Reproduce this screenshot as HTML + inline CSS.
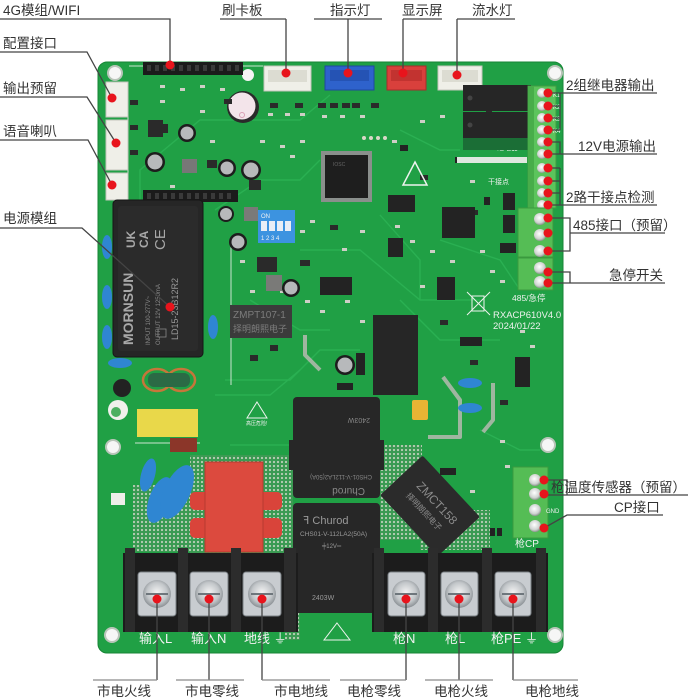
<!DOCTYPE html>
<html><head><meta charset="utf-8">
<style>
html,body{margin:0;padding:0;background:#fff;}
svg{display:block;}
text{font-family:"Liberation Sans","Noto Sans CJK SC",sans-serif;}
.lbl{font-size:13.5px;fill:#333;}
.wt{fill:#f2f2f2;}
.ln{stroke:#444;stroke-width:1.3;fill:none;}
.lg{stroke:#8a8a8a;stroke-width:1.3;fill:none;}
.dot{fill:#e8141c;}
.blk{fill:#232323;}
.smd{fill:#2a2a2a;}
</style></head><body>
<svg width="698" height="700" viewBox="0 0 698 700" xmlns="http://www.w3.org/2000/svg">
<defs>
<pattern id="dots" width="4" height="4" patternUnits="userSpaceOnUse"><rect width="4" height="4" fill="#3a9a52"/><circle cx="2" cy="2" r="1.1" fill="#bccfb8"/></pattern>
<radialGradient id="screw" cx="50%" cy="45%" r="60%"><stop offset="0" stop-color="#f4f4f4"/><stop offset="0.6" stop-color="#c2c6c9"/><stop offset="1" stop-color="#7a8085"/></radialGradient>
<radialGradient id="scr2" cx="45%" cy="40%" r="60%"><stop offset="0" stop-color="#ffffff"/><stop offset="0.7" stop-color="#cfd3d0"/><stop offset="1" stop-color="#8d948f"/></radialGradient>
</defs>
<rect width="698" height="700" fill="#fff"/>

<!-- BOARD -->
<rect x="98" y="62" width="465" height="591" rx="9" fill="#20a045" stroke="#178536" stroke-width="1"/>
<g stroke="#2db456" stroke-width="1.4" fill="none" opacity="0.8">
<polyline points="140,230 140,170 200,120 300,120 330,95"/>
<polyline points="215,210 260,180 300,180 320,160"/>
<polyline points="300,250 360,250 420,300 480,300"/>
<polyline points="380,215 420,260 420,300"/>
<polyline points="225,380 290,380 320,350 360,350"/>
<polyline points="230,445 290,445 320,420"/>
<polyline points="400,300 440,340 500,340"/>
<polyline points="490,130 490,95"/>
<polyline points="440,240 500,260 520,290"/>
<polyline points="215,395 270,395 300,370"/>
<polyline points="250,300 300,330 330,330"/>
<polyline points="400,130 440,150 460,150"/>
<polyline points="290,440 320,470"/>
<polyline points="480,430 520,450 540,450"/>
</g>
<g stroke="#e8efe6" stroke-width="1" fill="none" opacity="0.85">
<polyline points="129,66 263,66"/>
<line x1="231" y1="243" x2="231" y2="385"/>
<line x1="128" y1="108" x2="128" y2="230"/>
<polyline points="135,443 200,443"/>
</g>

<g fill="#f6f6f6" stroke="#b9c5b9" stroke-width="2">
<circle cx="115" cy="73" r="7"/><circle cx="555" cy="73" r="7"/>
<circle cx="113" cy="447" r="7"/><circle cx="548" cy="445" r="7"/>
<circle cx="112" cy="635" r="7"/><circle cx="555" cy="635" r="7"/>
</g>
<circle cx="248" cy="75" r="6" fill="#f4f4f4"/>

<rect x="133" y="485" width="70" height="67" fill="url(#dots)"/>
<rect x="190" y="455" width="103" height="98" fill="url(#dots)"/>
<rect x="380" y="445" width="42" height="95" fill="url(#dots)"/>
<rect x="420" y="510" width="70" height="40" fill="url(#dots)"/>
<rect x="285" y="600" width="15" height="40" fill="url(#dots)"/>

<g stroke="#9fb6a0" stroke-width="4" fill="none" stroke-linejoin="round">
<polyline points="443,377 460,400 460,437 428,437"/>
<polyline points="493,383 493,420 483,432"/>
<polyline points="400,340 400,378"/>
<polyline points="305,335 305,355 320,370"/>
</g>

<rect x="143" y="62" width="100" height="13" fill="#1b1b1b"/>
<g fill="#3a3a3a">
<rect x="147" y="65" width="4" height="6"/><rect x="155" y="65" width="4" height="6"/><rect x="163" y="65" width="4" height="6"/><rect x="171" y="65" width="4" height="6"/><rect x="179" y="65" width="4" height="6"/><rect x="187" y="65" width="4" height="6"/><rect x="195" y="65" width="4" height="6"/><rect x="203" y="65" width="4" height="6"/><rect x="211" y="65" width="4" height="6"/><rect x="219" y="65" width="4" height="6"/><rect x="227" y="65" width="4" height="6"/><rect x="235" y="65" width="4" height="6"/>
</g>
<rect x="143" y="190" width="95" height="12" fill="#1b1b1b"/>
<g fill="#3a3a3a">
<rect x="147" y="193" width="4" height="6"/><rect x="155" y="193" width="4" height="6"/><rect x="163" y="193" width="4" height="6"/><rect x="171" y="193" width="4" height="6"/><rect x="179" y="193" width="4" height="6"/><rect x="187" y="193" width="4" height="6"/><rect x="195" y="193" width="4" height="6"/><rect x="203" y="193" width="4" height="6"/><rect x="211" y="193" width="4" height="6"/><rect x="219" y="193" width="4" height="6"/><rect x="227" y="193" width="4" height="6"/>
</g>

<rect x="264" y="66" width="47" height="25" fill="#efefe8" stroke="#c5c5bc"/>
<rect x="268" y="70" width="39" height="12" fill="#dcdcd2"/>
<rect x="325" y="66" width="49" height="24" fill="#2e62cc" stroke="#1f48a0"/>
<rect x="330" y="70" width="39" height="11" fill="#2553b4"/>
<rect x="387" y="66" width="39" height="24" fill="#d9403c" stroke="#a82c2a"/>
<rect x="391" y="70" width="31" height="11" fill="#c23330"/>
<rect x="438" y="66" width="44" height="24" fill="#efefe8" stroke="#c5c5bc"/>
<rect x="442" y="70" width="36" height="12" fill="#dcdcd2"/>

<rect x="106" y="82" width="22" height="35" fill="#efefe8" stroke="#c5c5bc"/>
<rect x="106" y="120" width="22" height="50" fill="#efefe8" stroke="#c5c5bc"/>
<rect x="106" y="173" width="22" height="27" fill="#efefe8" stroke="#c5c5bc"/>

<circle cx="243" cy="107" r="16" fill="#2a2a2a"/>
<circle cx="242" cy="106" r="13.5" fill="#f3e4ea"/>
<circle cx="242" cy="115" r="2.5" fill="none" stroke="#d9a0b5"/>

<g class="smd">
<rect x="148" y="120" width="15" height="17"/><rect x="162" y="124" width="6" height="9"/>
<rect x="130" y="100" width="8" height="5"/><rect x="130" y="125" width="8" height="5"/><rect x="130" y="150" width="8" height="5"/>
<rect x="224" y="99" width="8" height="5"/><rect x="270" y="103" width="8" height="5"/><rect x="295" y="103" width="8" height="5"/>
<rect x="318" y="103" width="8" height="5"/><rect x="330" y="103" width="8" height="5"/><rect x="342" y="103" width="8" height="5"/><rect x="352" y="103" width="8" height="5"/>
<rect x="371" y="103" width="8" height="5"/><rect x="182" y="159" width="15" height="14" fill="#777"/>
<rect x="207" y="160" width="10" height="8"/><rect x="249" y="180" width="12" height="10"/>
<rect x="257" y="257" width="20" height="15"/>
<rect x="486" y="104" width="6" height="8"/>
<rect x="470" y="210" width="8" height="5"/><rect x="420" y="175" width="8" height="5"/><rect x="300" y="260" width="10" height="6"/>
<rect x="270" y="345" width="8" height="6"/><rect x="250" y="355" width="8" height="6"/><rect x="440" y="320" width="8" height="5"/>
<rect x="470" y="360" width="8" height="5"/><rect x="500" y="400" width="8" height="5"/><rect x="330" y="225" width="8" height="5"/>
</g>
<g fill="#cfcfc6">
<rect x="200" y="85" width="5" height="3"/><rect x="220" y="88" width="5" height="3"/><rect x="160" y="85" width="5" height="3"/><rect x="180" y="88" width="5" height="3"/>
<rect x="268" y="113" width="5" height="3"/><rect x="285" y="113" width="5" height="3"/><rect x="300" y="113" width="5" height="3"/><rect x="322" y="115" width="5" height="3"/><rect x="340" y="115" width="5" height="3"/><rect x="360" y="115" width="5" height="3"/>
<rect x="300" y="140" width="5" height="3"/><rect x="290" y="155" width="5" height="3"/><rect x="280" y="145" width="5" height="3"/>
<rect x="260" y="140" width="5" height="3"/><rect x="392" y="140" width="5" height="3"/><rect x="420" y="120" width="5" height="3"/><rect x="440" y="115" width="5" height="3"/>
<rect x="395" y="225" width="5" height="3"/><rect x="410" y="240" width="5" height="3"/><rect x="360" y="230" width="5" height="3"/><rect x="342" y="248" width="5" height="3"/>
<rect x="300" y="230" width="5" height="3"/><rect x="310" y="220" width="5" height="3"/><rect x="280" y="290" width="5" height="3"/><rect x="305" y="300" width="5" height="3"/>
<rect x="420" y="285" width="5" height="3"/><rect x="480" y="250" width="5" height="3"/><rect x="490" y="270" width="5" height="3"/><rect x="470" y="180" width="5" height="3"/>
<rect x="345" y="300" width="5" height="3"/><rect x="255" y="325" width="5" height="3"/><rect x="520" y="330" width="5" height="3"/><rect x="530" y="345" width="5" height="3"/>
<rect x="500" y="440" width="5" height="3"/><rect x="505" y="465" width="5" height="3"/><rect x="470" y="490" width="5" height="3"/>
<rect x="160" y="100" width="5" height="3"/><rect x="200" y="110" width="5" height="3"/><rect x="210" y="140" width="5" height="3"/><rect x="170" y="185" width="5" height="3"/>
<rect x="240" y="260" width="5" height="3"/><rect x="250" y="290" width="5" height="3"/><rect x="320" y="310" width="5" height="3"/><rect x="360" y="320" width="5" height="3"/>
<rect x="430" y="250" width="5" height="3"/><rect x="450" y="260" width="5" height="3"/><rect x="500" y="280" width="5" height="3"/>
</g>
<g fill="#dad8c8"><circle cx="364" cy="138" r="2"/><circle cx="371" cy="138" r="2"/><circle cx="378" cy="138" r="2"/><circle cx="385" cy="138" r="2"/></g>

<g>
<circle cx="187" cy="133" r="9" fill="#1d1d1d"/><circle cx="187" cy="133" r="6.5" fill="#b7b9bb"/>
<circle cx="155" cy="162" r="10" fill="#1d1d1d"/><circle cx="155" cy="162" r="7.5" fill="#b7b9bb"/>
<circle cx="227" cy="168" r="9" fill="#1d1d1d"/><circle cx="227" cy="168" r="6.5" fill="#b7b9bb"/>
<circle cx="251" cy="170" r="10" fill="#1d1d1d"/><circle cx="251" cy="170" r="7.5" fill="#b7b9bb"/>
<circle cx="226" cy="214" r="8" fill="#1d1d1d"/><circle cx="226" cy="214" r="6" fill="#b7b9bb"/>
<circle cx="238" cy="242" r="9" fill="#1d1d1d"/><circle cx="238" cy="242" r="6.5" fill="#b7b9bb"/>
<circle cx="291" cy="288" r="9" fill="#1d1d1d"/><circle cx="291" cy="288" r="6.5" fill="#b7b9bb"/>
<circle cx="345" cy="365" r="10" fill="#1d1d1d"/><circle cx="345" cy="365" r="7.5" fill="#b7b9bb"/>
</g>
<rect x="244" y="207" width="14" height="14" fill="#7a7a78"/>
<rect x="266" y="275" width="16" height="16" fill="#7a7a78"/>

<rect x="321" y="151" width="51" height="51" fill="#8a8f8c"/>
<rect x="325" y="155" width="43" height="43" fill="#1e1e1e"/>
<text x="333" y="166" font-size="5" fill="#666">IOSC</text>

<rect x="258" y="210" width="37" height="33" fill="#3c93e0"/>
<text x="261" y="218" font-size="6" class="wt">ON</text>
<g fill="#e8eef6"><rect x="261" y="221" width="6" height="10"/><rect x="269" y="221" width="6" height="10"/><rect x="277" y="221" width="6" height="10"/><rect x="285" y="221" width="6" height="10"/></g>
<text x="261" y="240" font-size="6" class="wt">1 2 3 4</text>

<polygon points="415,162 427,185 403,185" fill="none" stroke="#eef3ee" stroke-width="1.5"/>

<g class="blk">
<rect x="388" y="195" width="27" height="17"/>
<rect x="442" y="207" width="33" height="31"/>
<rect x="320" y="277" width="32" height="18"/>
<rect x="388" y="238" width="15" height="19"/>
<rect x="437" y="277" width="18" height="23"/>
<rect x="503" y="193" width="12" height="17"/>
<rect x="503" y="215" width="12" height="18"/>
<rect x="500" y="243" width="16" height="10"/>
<rect x="515" y="357" width="15" height="30"/>
<rect x="460" y="337" width="22" height="9"/>
<rect x="337" y="383" width="16" height="7"/>
<rect x="356" y="353" width="9" height="22"/>
<rect x="455" y="157" width="10" height="6"/>
<rect x="400" y="145" width="8" height="6"/>
<rect x="484" y="197" width="6" height="8"/>
<rect x="440" y="468" width="16" height="7"/>
</g>
<rect x="457" y="157" width="70" height="6" fill="#dfe8df"/>
<text x="497" y="150" font-size="7" class="wt">继电器</text>
<text x="488" y="184" font-size="7" class="wt">干接点</text>

<rect x="463" y="85" width="68" height="26" fill="#262626"/>
<rect x="463" y="112" width="68" height="26" fill="#262626"/>
<circle cx="470" cy="98" r="2.5" fill="#444"/><circle cx="470" cy="125" r="2.5" fill="#444"/>
<rect x="463" y="138" width="68" height="12" fill="#1b6e36"/>

<g stroke="#eef3ee" stroke-width="1" fill="none"><rect x="472" y="296" width="12" height="15"/><line x1="467" y1="292" x2="490" y2="315"/><line x1="490" y1="292" x2="467" y2="315"/></g>
<text x="493" y="318" font-size="9.5" fill="#eef2ee">RXACP610V4.0</text>
<text x="493" y="329" font-size="9.5" fill="#eef2ee">2024/01/22</text>
<text x="512" y="301" font-size="8.5" fill="#eef2ee">485/急停</text>

<rect x="528" y="86" width="28" height="122" fill="#5cc45c" stroke="#3f9c42"/>
<rect x="528" y="86" width="6" height="122" fill="#48ad4a"/>
<g fill="url(#scr2)">
<circle cx="542" cy="93" r="5"/><circle cx="542" cy="106" r="5"/><circle cx="542" cy="118" r="5"/><circle cx="542" cy="130" r="5"/>
<circle cx="542" cy="142" r="5"/><circle cx="542" cy="154" r="5"/><circle cx="542" cy="168" r="5"/><circle cx="542" cy="181" r="5"/>
<circle cx="542" cy="193" r="5"/><circle cx="542" cy="205" r="5"/>
</g>
<rect x="518" y="208" width="35" height="49" fill="#55bd55" stroke="#3a9a3e"/>
<rect x="518" y="258" width="35" height="32" fill="#55bd55" stroke="#3a9a3e"/>
<g fill="url(#scr2)">
<circle cx="540" cy="219" r="6"/><circle cx="540" cy="235" r="6"/><circle cx="540" cy="251" r="6"/>
<circle cx="540" cy="268" r="6"/><circle cx="540" cy="282" r="6"/>
</g>
<g font-size="6" class="wt"><text x="553" y="97">K1</text><text x="553" y="109">K2</text><text x="553" y="121">K3</text><text x="553" y="133">K4</text></g>

<!-- power module -->
<rect x="113" y="200" width="90" height="157" rx="4" fill="#262626" stroke="#151515"/>
<rect x="118" y="206" width="80" height="145" rx="3" fill="#2b2b2b"/>
<text transform="translate(133,345) rotate(-90)" font-family="Liberation Serif,serif" font-size="14" font-weight="bold" fill="#a8a8a8">MORNSUN</text>
<text transform="translate(135,248) rotate(-90)" font-size="12" font-weight="bold" fill="#a8a8a8">UK</text>
<text transform="translate(148,248) rotate(-90)" font-size="12" font-weight="bold" fill="#a8a8a8">CA</text>
<text transform="translate(165,250) rotate(-90)" font-size="15" fill="#a8a8a8">CE</text>
<text transform="translate(178,340) rotate(-90)" font-size="9" fill="#999">LD15-23B12R2</text>
<text transform="translate(150,345) rotate(-90)" font-size="6" fill="#8a8a8a">INPUT 100-277V~</text>
<text transform="translate(160,345) rotate(-90)" font-size="6" fill="#8a8a8a">OUTPUT 12V 1250mA</text>
<rect x="158" y="329" width="8" height="8" fill="none" stroke="#888" stroke-width="0.8"/>

<rect x="230" y="305" width="62" height="33" fill="#3b3b3b"/>
<text x="233" y="318" font-size="10" fill="#7c7c7c" font-family="Liberation Serif,serif">ZMPT107-1</text>
<text x="233" y="332" font-size="9" fill="#7c7c7c">择明朗熙电子</text>

<g fill="#2f86d2">
<ellipse cx="107" cy="247" rx="5" ry="12"/>
<ellipse cx="107" cy="297" rx="5" ry="12"/>
<ellipse cx="107" cy="337" rx="5" ry="12"/>
<ellipse cx="120" cy="363" rx="12" ry="5"/>
<ellipse cx="213" cy="327" rx="5" ry="12"/>
</g>

<ellipse cx="157" cy="380" rx="14" ry="11" fill="none" stroke="#c6763a" stroke-width="2.5"/>
<ellipse cx="181" cy="380" rx="14" ry="11" fill="none" stroke="#c6763a" stroke-width="2.5"/>
<rect x="148" y="373" width="42" height="14" rx="6" fill="#2b6a45"/>
<circle cx="122" cy="388" r="9" fill="#222"/>
<circle cx="118" cy="410" r="10" fill="#f0f0ec"/>
<circle cx="116" cy="412" r="5" fill="#4caf60"/>

<rect x="137" y="409" width="61" height="28" fill="#e9d84a"/>
<rect x="170" y="438" width="27" height="14" fill="#8b3629"/>

<g fill="#2f86d2">
<ellipse cx="148" cy="475" rx="7" ry="17" transform="rotate(15 148 475)"/>
<ellipse cx="160" cy="500" rx="11" ry="24" transform="rotate(20 160 500)"/>
<ellipse cx="177" cy="492" rx="13" ry="29" transform="rotate(25 177 492)"/>
</g>
<rect x="111" y="493" width="14" height="12" fill="#eeeeea"/>

<polygon points="257,402 267,418 247,418" fill="none" stroke="#eef3ee" stroke-width="1"/>
<text x="246" y="425" font-size="5" class="wt">高压危险!</text>
<polygon points="337,623 350,640 324,640" fill="none" stroke="#eef3ee" stroke-width="1"/>

<rect x="190" y="492" width="22" height="18" rx="5" fill="#d9443a"/>
<rect x="190" y="518" width="22" height="20" rx="5" fill="#d9443a"/>
<rect x="258" y="492" width="24" height="18" rx="5" fill="#d9443a"/>
<rect x="258" y="518" width="24" height="20" rx="5" fill="#d9443a"/>
<rect x="205" y="462" width="58" height="90" fill="#dc4a3e" stroke="#b83a30"/>

<rect x="373" y="315" width="45" height="80" fill="#262626"/>
<rect x="412" y="400" width="16" height="20" rx="2" fill="#e8b434"/>
<g fill="#2f86d2"><ellipse cx="470" cy="383" rx="12" ry="5"/><ellipse cx="470" cy="408" rx="12" ry="5"/></g>

<rect x="293" y="397" width="87" height="101" rx="4" fill="#272727"/>
<rect x="289" y="440" width="6" height="30" fill="#272727"/><rect x="378" y="440" width="6" height="30" fill="#272727"/>
<text transform="translate(370,418) rotate(180)" font-size="7" fill="#888">2403W</text>
<text transform="translate(372,475) rotate(180)" font-size="6" fill="#888">CHS01-V-112LA2(50A)</text>
<text transform="translate(365,488) rotate(180)" font-size="10" fill="#888">Churod</text>
<rect x="293" y="503" width="87" height="110" rx="4" fill="#272727"/>
<text x="303" y="524" font-size="11" fill="#999">ꟻ Churod</text>
<text x="300" y="536" font-size="6.5" fill="#999">CHS01-V-112LA2(50A)</text>
<text x="322" y="548" font-size="6" fill="#999">╪12V═</text>
<text x="312" y="600" font-size="7" fill="#999">2403W</text>

<g transform="translate(430,506) rotate(47)">
<rect x="-42" y="-29" width="84" height="58" rx="2" fill="#2b2b2b"/>
<text x="-24" y="-3" font-size="12" fill="#8a8a8a">ZMCT158</text>
<text x="-24" y="11" font-size="8" fill="#8a8a8a">择明朗熙电子</text>
</g>

<rect x="513" y="467" width="35" height="71" fill="#55bd55" stroke="#3a9a3e"/>
<g fill="url(#scr2)">
<circle cx="535" cy="480" r="6"/><circle cx="535" cy="494" r="6"/><circle cx="535" cy="510" r="6"/><circle cx="535" cy="526" r="6"/>
</g>
<text x="515" y="547" font-size="10" class="wt">枪CP</text>
<text x="546" y="513" font-size="6" class="wt">GND</text>
<rect x="490" y="528" width="5" height="8" fill="#222"/><rect x="497" y="528" width="5" height="8" fill="#222"/>

<rect x="123" y="553" width="175" height="79" fill="#1c1c1c"/>
<rect x="372" y="553" width="176" height="79" fill="#1c1c1c"/>
<g fill="#2c2c2c">
<rect x="178" y="548" width="10" height="84"/><rect x="231" y="548" width="10" height="84"/><rect x="284" y="548" width="12" height="84"/>
<rect x="374" y="548" width="10" height="84"/><rect x="428" y="548" width="10" height="84"/><rect x="482" y="548" width="10" height="84"/><rect x="536" y="548" width="10" height="84"/>
<rect x="125" y="548" width="10" height="84"/>
</g>
<g stroke="#7a8085" stroke-width="1">
<rect x="138" y="572" width="38" height="44" rx="3" fill="#c8ccd0"/>
<rect x="190" y="572" width="38" height="44" rx="3" fill="#c8ccd0"/>
<rect x="243" y="572" width="38" height="44" rx="3" fill="#c8ccd0"/>
<rect x="388" y="572" width="37" height="44" rx="3" fill="#c8ccd0"/>
<rect x="441" y="572" width="37" height="44" rx="3" fill="#c8ccd0"/>
<rect x="495" y="572" width="36" height="44" rx="3" fill="#c8ccd0"/>
</g>
<g fill="url(#screw)">
<circle cx="157" cy="594" r="14"/><circle cx="209" cy="594" r="14"/><circle cx="262" cy="594" r="14"/>
<circle cx="406" cy="594" r="14"/><circle cx="459" cy="594" r="14"/><circle cx="513" cy="594" r="14"/>
</g>
<g stroke="#6e767c" stroke-width="2">
<line x1="146" y1="594" x2="168" y2="594"/><line x1="198" y1="594" x2="220" y2="594"/><line x1="251" y1="594" x2="273" y2="594"/>
<line x1="395" y1="594" x2="417" y2="594"/><line x1="448" y1="594" x2="470" y2="594"/><line x1="502" y1="594" x2="524" y2="594"/>
</g>

<g font-size="13" class="wt">
<text x="139" y="643">输入L</text>
<text x="191" y="643">输入N</text>
<text x="244" y="643">地线 ⏚</text>
<text x="393" y="643">枪N</text>
<text x="445" y="643">枪L</text>
<text x="491" y="643">枪PE ⏚</text>
</g>

<!-- CALLOUT LINES -->
<polyline class="ln" points="0,19 170,19 170,65"/>
<polyline class="ln" points="220,19 286,19"/><line class="ln" x1="286" y1="19" x2="286" y2="73"/>
<polyline class="ln" points="314,19 382,19"/><line class="ln" x1="348" y1="19" x2="348" y2="73"/>
<polyline class="ln" points="403,19 442,19"/><line class="ln" x1="403" y1="19" x2="403" y2="73"/>
<polyline class="ln" points="457,19 515,19"/><line class="ln" x1="457" y1="19" x2="457" y2="75"/>
<polyline class="ln" points="0,52 87,52 112,98"/>
<polyline class="ln" points="0,97 87,97 116,143"/>
<polyline class="ln" points="0,140 88,140 112,185"/>
<polyline class="ln" points="0,228 82,228 170,307"/>
<polyline class="ln" points="548,93 657,93"/>
<polyline class="ln" points="548,106 560,106"/><polyline class="ln" points="548,118 560,118"/><polyline class="ln" points="548,130 560,130"/>
<line class="ln" x1="560" y1="93" x2="560" y2="130"/>
<polyline class="ln" points="548,142 560,142 560,154"/><polyline class="ln" points="548,154 657,154"/>
<polyline class="ln" points="548,168 560,168"/><polyline class="ln" points="548,181 560,181"/><polyline class="ln" points="548,193 560,193"/>
<line class="ln" x1="560" y1="168" x2="560" y2="205"/><polyline class="ln" points="548,205 657,205"/>
<polyline class="ln" points="548,218 570,218 570,251 548,251"/><polyline class="ln" points="570,233 665,233"/>
<polyline class="ln" points="548,272 570,272 570,283"/><polyline class="ln" points="548,283 665,283"/>
<polyline class="ln" points="544,480 567,480 567,495"/><polyline class="ln" points="544,495 688,495"/>
<polyline class="ln" points="544,528 567,515 663,515"/>
<line class="ln" x1="157" y1="600" x2="157" y2="680"/><line class="lg" x1="93" y1="680" x2="157" y2="680"/>
<line class="ln" x1="209" y1="600" x2="209" y2="680"/><line class="lg" x1="176" y1="680" x2="244" y2="680"/>
<line class="ln" x1="262" y1="600" x2="262" y2="680"/><line class="lg" x1="262" y1="680" x2="330" y2="680"/>
<line class="ln" x1="406" y1="600" x2="406" y2="680"/><line class="lg" x1="340" y1="680" x2="406" y2="680"/>
<line class="ln" x1="459" y1="600" x2="459" y2="680"/><line class="lg" x1="425" y1="680" x2="493" y2="680"/>
<line class="ln" x1="513" y1="600" x2="513" y2="680"/><line class="lg" x1="513" y1="680" x2="578" y2="680"/>

<g class="dot">
<circle cx="170" cy="65" r="4.5"/><circle cx="286" cy="73" r="4.5"/><circle cx="348" cy="73" r="4.5"/><circle cx="403" cy="73" r="4.5"/><circle cx="457" cy="75" r="4.5"/>
<circle cx="112" cy="98" r="4.5"/><circle cx="116" cy="143" r="4.5"/><circle cx="112" cy="185" r="4.5"/><circle cx="170" cy="307" r="4.5"/>
<circle cx="548" cy="93" r="4.5"/><circle cx="548" cy="106" r="4.5"/><circle cx="548" cy="118" r="4.5"/><circle cx="548" cy="130" r="4.5"/>
<circle cx="548" cy="142" r="4.5"/><circle cx="548" cy="154" r="4.5"/><circle cx="548" cy="168" r="4.5"/><circle cx="548" cy="181" r="4.5"/>
<circle cx="548" cy="193" r="4.5"/><circle cx="548" cy="205" r="4.5"/>
<circle cx="548" cy="218" r="4.5"/><circle cx="548" cy="233" r="4.5"/><circle cx="548" cy="251" r="4.5"/>
<circle cx="548" cy="272" r="4.5"/><circle cx="548" cy="283" r="4.5"/>
<circle cx="544" cy="480" r="4.5"/><circle cx="544" cy="494" r="4.5"/><circle cx="544" cy="528" r="4.5"/>
<circle cx="157" cy="599" r="4.5"/><circle cx="209" cy="599" r="4.5"/><circle cx="262" cy="599" r="4.5"/>
<circle cx="406" cy="599" r="4.5"/><circle cx="459" cy="599" r="4.5"/><circle cx="513" cy="599" r="4.5"/>
</g>

<g class="lbl">
<text x="3" y="15">4G模组/WIFI</text>
<text x="222" y="15">刷卡板</text>
<text x="330" y="15">指示灯</text>
<text x="402" y="15">显示屏</text>
<text x="472" y="15">流水灯</text>
<text x="3" y="48">配置接口</text>
<text x="3" y="93">输出预留</text>
<text x="3" y="136">语音喇叭</text>
<text x="3" y="223">电源模组</text>
<text x="566" y="90">2组继电器输出</text>
<text x="578" y="151">12V电源输出</text>
<text x="566" y="202">2路干接点检测</text>
<text x="573" y="230">485接口（预留）</text>
<text x="609" y="280">急停开关</text>
<text x="551" y="492">枪温度传感器（预留）</text>
<text x="614" y="512">CP接口</text>
<text x="97" y="696">市电火线</text>
<text x="185" y="696">市电零线</text>
<text x="274" y="696">市电地线</text>
<text x="347" y="696">电枪零线</text>
<text x="434" y="696">电枪火线</text>
<text x="525" y="696">电枪地线</text>
</g>
</svg>
</body></html>
